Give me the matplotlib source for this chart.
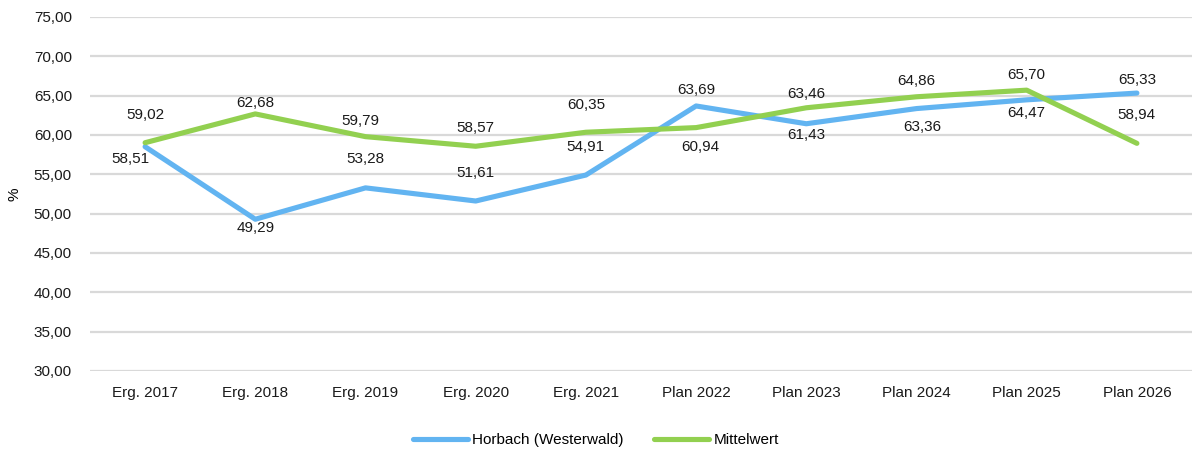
import matplotlib
matplotlib.use("Agg")
import matplotlib.pyplot as plt
import numpy as np

plt.rcParams['font.family'] = ['Liberation Sans', 'DejaVu Sans']

categories = ["Erg. 2017", "Erg. 2018", "Erg. 2019", "Erg. 2020", "Erg. 2021",
              "Plan 2022", "Plan 2023", "Plan 2024", "Plan 2025", "Plan 2026"]
horbach = [58.51, 49.29, 53.28, 51.61, 54.91, 63.69, 61.43, 63.36, 64.47, 65.33]
mittelwert = [59.02, 62.68, 59.79, 58.57, 60.35, 60.94, 63.46, 64.86, 65.70, 58.94]
yticks = [30, 35, 40, 45, 50, 55, 60, 65, 70, 75]

# label offsets in pixels (dx, dy) relative to the point
horbach_offsets = [(-15, -12), (0, -9), (0, 29), (0, 28), (0, 28),
                   (0, 16), (0, -11), (6, -18), (0, -13), (0, 13)]
mittel_offsets = [(0, 28), (0, 11), (-5, 16), (0, 18), (0, 27),
                  (4, -19), (0, 14), (0, 16), (0, 15), (0, 28)]

blue = '#62B4F1'
green = '#92D050'
fs = 11

fig = plt.figure(figsize=(11.92, 4.55), dpi=100)
ax = fig.add_axes([90 / 1192, 1 - 371 / 455, 1102 / 1192, 354 / 455])

x = np.arange(len(categories))
ax.plot(x, horbach, color=blue, lw=3.7, solid_capstyle='round', solid_joinstyle='round',
        label="Horbach (Westerwald)", zorder=3)
ax.plot(x, mittelwert, color=green, lw=3.7, solid_capstyle='round', solid_joinstyle='round',
        label="Mittelwert", zorder=3)

for xi, v, off in zip(x, horbach, horbach_offsets):
    ax.annotate(f"{v:.2f}".replace('.', ','), (xi, v), xytext=off, textcoords='offset pixels',
                ha='center', va='center', fontsize=fs, color='#1a1a1a', zorder=4)
for xi, v, off in zip(x, mittelwert, mittel_offsets):
    ax.annotate(f"{v:.2f}".replace('.', ','), (xi, v), xytext=off, textcoords='offset pixels',
                ha='center', va='center', fontsize=fs, color='#1a1a1a', zorder=4)

ax.set_xlim(-0.5, len(categories) - 0.5)
ax.set_ylim(30, 75)
ax.set_yticks(yticks)
ax.set_yticklabels([f"{t:.2f}".replace('.', ',') for t in yticks])
ax.set_xticks(x)
ax.set_xticklabels(categories)
ax.tick_params(axis='both', length=0, labelsize=fs, colors='#1a1a1a')
ax.tick_params(axis='y', pad=13)
ax.tick_params(axis='x', pad=11)
ax.yaxis.grid(True, color='#D9D9D9', lw=1.6)
ax.set_axisbelow(True)
for s in ax.spines.values():
    s.set_visible(False)
ax.set_ylabel("%", fontsize=fs)
ax.yaxis.set_label_coords(-0.062, 0.5)

fig.legend(loc='center', bbox_to_anchor=(0.5, 1 - 440 / 455), ncol=2, frameon=False,
           fontsize=fs, handlelength=3.6, handletextpad=0.3, columnspacing=2.0)

plt.savefig("out.png", dpi=100)
